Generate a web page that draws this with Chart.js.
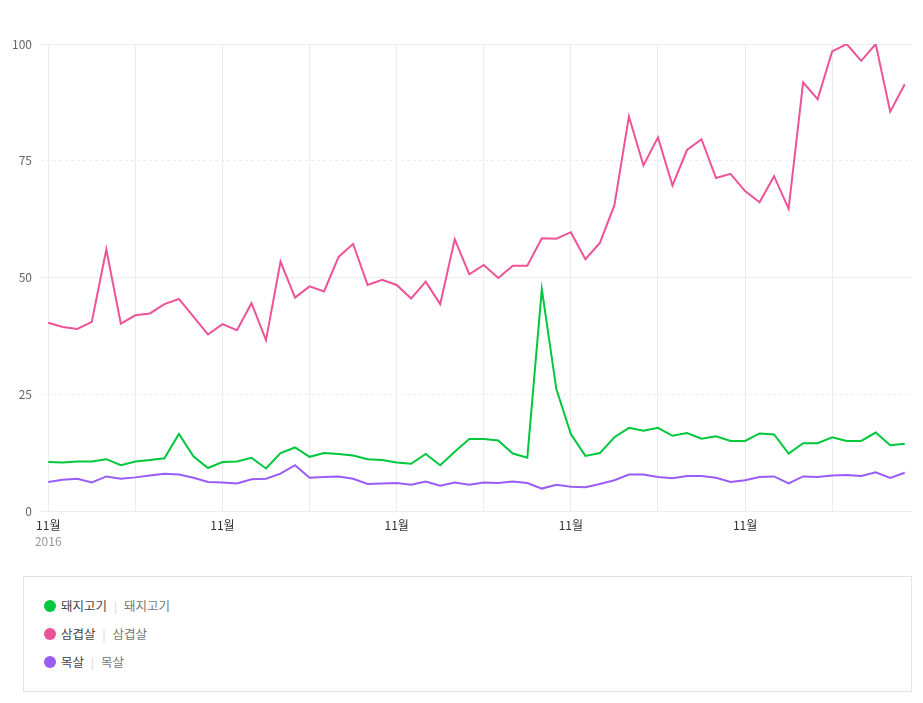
<!DOCTYPE html>
<html lang="ko">
<head>
<meta charset="utf-8">
<script src="https://cdn.jsdelivr.net/npm/chart.js@4.4.1/dist/chart.umd.min.js"></script>
<style>
  body { margin: 0; background: #fff; font-family: "Noto Sans CJK KR", sans-serif; }
  #wrap { position: relative; width: 923px; height: 560px; }
  #legend {
    position: absolute; left: 23px; top: 576px; width: 887px; height: 114px;
    border: 1px solid #e3e3e3; box-sizing: content-box;
  }
  .item { position: absolute; left: 20px; height: 20px; line-height: 20px; font-size: 12.5px; font-weight: 400; white-space: nowrap; }
  .dot { display: inline-block; width: 12px; height: 12px; border-radius: 50%; vertical-align: -1px; margin-right: 5px; }
  .name { color: #444; font-weight: 400; }
  .sep { color: #d0d0d0; margin: 0 7px; font-size: 11px; }
  .sub { color: #777; }
</style>
</head>
<body>
<div id="wrap"><canvas id="chart" width="923" height="560"></canvas></div>
<div id="legend"></div>
<script>
// 월별 검색 추이 (2016.11 ~ 2021.10)
const months = [
  '2016.11', '2016.12', '2017.01', '2017.02', '2017.03', '2017.04', '2017.05', '2017.06', '2017.07', '2017.08', '2017.09', '2017.10',
  '2017.11', '2017.12', '2018.01', '2018.02', '2018.03', '2018.04', '2018.05', '2018.06', '2018.07', '2018.08', '2018.09', '2018.10',
  '2018.11', '2018.12', '2019.01', '2019.02', '2019.03', '2019.04', '2019.05', '2019.06', '2019.07', '2019.08', '2019.09', '2019.10',
  '2019.11', '2019.12', '2020.01', '2020.02', '2020.03', '2020.04', '2020.05', '2020.06', '2020.07', '2020.08', '2020.09', '2020.10',
  '2020.11', '2020.12', '2021.01', '2021.02', '2021.03', '2021.04', '2021.05', '2021.06', '2021.07', '2021.08', '2021.09', '2021.10'
];

const dwaejigogi = [
  10.5, 10.4, 10.6, 10.6, 11.1, 9.8, 10.6, 10.9, 11.3, 16.5, 11.7, 9.2,
  10.5, 10.6, 11.4, 9.1, 12.4, 13.6, 11.6, 12.4, 12.2, 11.9, 11.1, 10.9,
  10.4, 10.1, 12.2, 9.8, 12.7, 15.4, 15.4, 15.1, 12.3, 11.4, 47.5, 26.1,
  16.5, 11.8, 12.4, 15.8, 17.8, 17.2, 17.8, 16.1, 16.7, 15.5, 16.0, 15.0,
  15.0, 16.6, 16.4, 12.3, 14.5, 14.5, 15.8, 15.0, 15.0, 16.8, 14.1, 14.4
];

const samgyeopsal = [
  40.3, 39.4, 39.0, 40.5, 56.0, 40.1, 41.9, 42.3, 44.3, 45.4, 41.6, 37.8,
  40.0, 38.7, 44.5, 36.6, 53.4, 45.7, 48.1, 47.0, 54.4, 57.2, 48.4, 49.5,
  48.4, 45.5, 49.1, 44.3, 58.2, 50.7, 52.7, 49.9, 52.5, 52.5, 58.4, 58.3,
  59.7, 53.9, 57.4, 65.5, 84.5, 74.0, 80.0, 69.7, 77.3, 79.6, 71.3, 72.2,
  68.5, 66.1, 71.7, 64.7, 91.8, 88.2, 98.4, 100, 96.4, 100, 85.5, 91.4
];

const moksal = [
  6.2, 6.7, 6.9, 6.1, 7.4, 6.9, 7.2, 7.6, 8.0, 7.8, 7.1, 6.2,
  6.1, 5.9, 6.8, 6.9, 8.0, 9.8, 7.1, 7.3, 7.4, 6.9, 5.8, 5.9,
  6.0, 5.6, 6.3, 5.4, 6.1, 5.6, 6.1, 6.0, 6.3, 6.0, 4.8, 5.6,
  5.2, 5.1, 5.8, 6.6, 7.8, 7.8, 7.3, 7.0, 7.5, 7.5, 7.1, 6.2,
  6.6, 7.3, 7.4, 5.9, 7.4, 7.3, 7.6, 7.7, 7.5, 8.3, 7.1, 8.2
];

const seriesNames = ['돼지고기', '삼겹살', '목살'];
const seriesColors = ['#00c73c', '#ec5398', '#9a5cf6'];
const yTicks = [0, 25, 50, 75, 100];

const FONT = '"Noto Sans CJK KR", sans-serif';
const GRID = '#ececec';

const datasets = [dwaejigogi, samgyeopsal, moksal].map((values, i) => ({
    label: seriesNames[i],
    data: values,
    borderColor: seriesColors[i],
    backgroundColor: seriesColors[i],
    borderWidth: 2,
    pointRadius: 0,
    tension: 0,
    fill: false
}));

new Chart(document.getElementById('chart'), {
    type: 'line',
    data: { labels: months, datasets },
    options: {
        responsive: false,
        animation: false,
        layout: { padding: { top: 44, right: 11, bottom: 11, left: 0 } },
        plugins: { legend: { display: false }, tooltip: { enabled: false } },
        scales: {
            x: {
                offset: true,
                grid: {
                    offset: false,
                    drawTicks: false,
                    color: ctx => (ctx.index % 6 === 0 ? GRID : 'rgba(0,0,0,0)')
                },
                border: { display: false },
                ticks: {
                    autoSkip: false,
                    maxRotation: 0,
                    padding: 7,
                    color: '#333',
                    font: { family: FONT, size: 12 },
                    callback: (v, i) => (months[i].endsWith('.11') ? '11월' : '')
                },
                afterFit: s => { s.height = 22; }
            },
            x2: {
                type: 'category',
                position: 'bottom',
                offset: true,
                grid: { display: false, drawOnChartArea: false, drawTicks: false },
                border: { display: false },
                ticks: {
                    autoSkip: false,
                    maxRotation: 0,
                    padding: 1,
                    color: '#999',
                    font: { family: FONT, size: 12 },
                    callback: (v, i) => (i === 0 ? months[0].slice(0, 4) : '')
                },
                afterFit: s => { s.height = 16; }
            },
            y: {
                min: 0,
                max: 100,
                afterBuildTicks: s => { s.ticks = yTicks.map(v => ({ value: v })); },
                grid: { color: GRID, drawTicks: false },
                border: {
                    display: false,
                    dash: ctx => (ctx.tick && ctx.tick.value % 50 !== 0 ? [3, 3] : [])
                },
                ticks: {
                    padding: 9,
                    color: '#666',
                    font: { family: FONT, size: 12 }
                },
                afterFit: s => { s.width = 41; }
            }
        }
    }
});

// 범례
const legend = document.getElementById('legend');
seriesNames.forEach((name, i) => {
    const row = document.createElement('div');
    row.className = 'item';
    row.style.top = (19 + i * 28) + 'px';
    row.innerHTML = `<span class="dot" style="background:${seriesColors[i]}"></span>` +
        `<span class="name">${name}</span><span class="sep">|</span><span class="sub">${name}</span>`;
    legend.appendChild(row);
});
</script>
</body>
</html>
